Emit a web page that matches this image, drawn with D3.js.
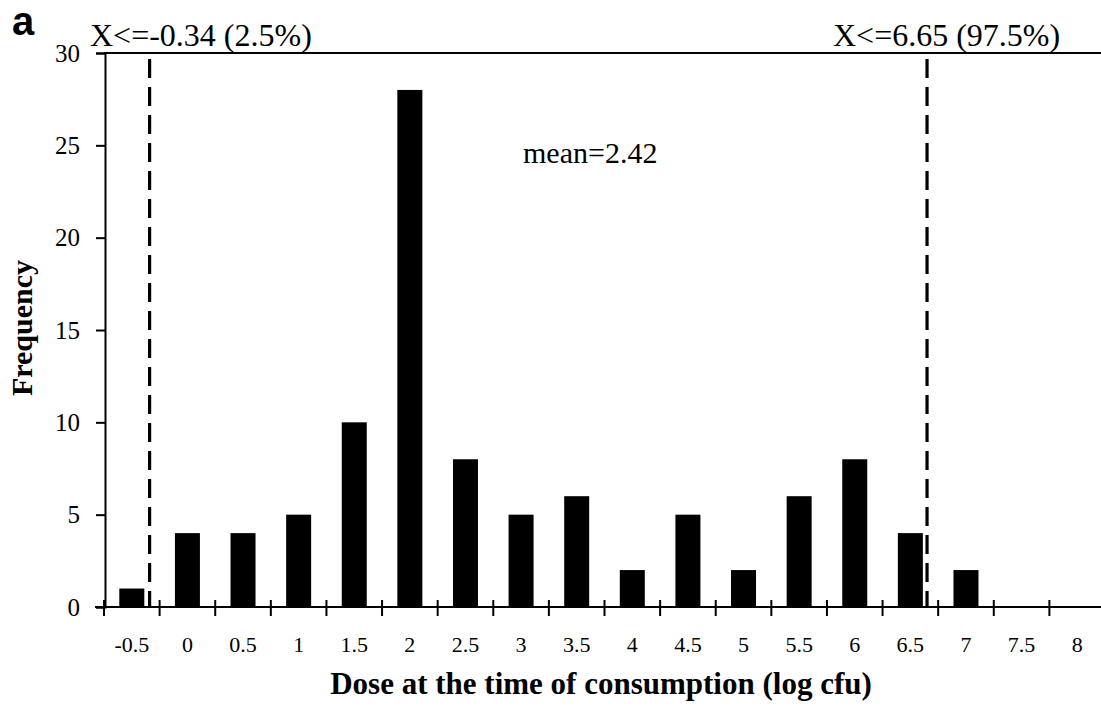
<!DOCTYPE html>
<html><head><meta charset="utf-8">
<script src="https://cdn.jsdelivr.net/npm/d3@7"></script>
<style>body{margin:0;background:#fff}svg{display:block}text{fill:#000}</style>
</head><body>
<script>
const categories = [-0.5,0,0.5,1,1.5,2,2.5,3,3.5,4,4.5,5,5.5,6,6.5,7,7.5,8];
const tickLabels = ["-0.5","0","0.5","1","1.5","2","2.5","3","3.5","4","4.5","5","5.5","6","6.5","7","7.5","8"];
const frequency = [1,4,4,5,10,28,8,5,6,2,5,2,6,8,4,2,0,0];
const yTicks = [0,5,10,15,20,25,30];
const percentileLines = [-0.34, 6.65];
const percentileLabels = ["X<=-0.34 (2.5%)", "X<=6.65 (97.5%)"];
const meanLabel = "mean=2.42";

const W = 1101, H = 707;
const svg = d3.select("body").append("svg").attr("width", W).attr("height", H)
  .style("font-family", "Liberation Serif, Times New Roman, serif");
const serif = "Liberation Serif, Times New Roman, serif";

const x = d3.scaleLinear().domain([-0.75, 8.25]).range([104, 1105]);
const y = d3.scaleLinear().domain([0, 30]).range([607, 53]);
const barW = 25;

// bars
svg.append("g").selectAll("rect").data(categories).join("rect")
  .attr("x", (c) => x(c) - barW/2)
  .attr("width", barW)
  .attr("y", (c,i) => y(frequency[i]))
  .attr("height", (c,i) => y(0) - y(frequency[i]))
  .attr("fill", "#000");

// y axis
const ya = svg.append("g").attr("transform", `translate(${x(-0.75)+1},0)`)
  .call(d3.axisLeft(y).tickValues(yTicks).tickSize(9).tickPadding(16).tickFormat(d3.format("d")))
  .attr("font-family", serif).attr("font-size", 25);
ya.select(".domain").attr("stroke-width", 2);
ya.selectAll(".tick line").attr("stroke-width", 2);
ya.selectAll("text").attr("fill", "#000");

// top border
svg.append("line").attr("x1", x(-0.75)).attr("x2", x(8.25)).attr("y1", y(30)).attr("y2", y(30))
  .attr("stroke", "#000").attr("stroke-width", 2);

// x axis line
svg.append("line").attr("x1", x(-0.75) - 9).attr("x2", x(8.25)).attr("y1", y(0)).attr("y2", y(0))
  .attr("stroke", "#000").attr("stroke-width", 2);
// boundary ticks (crossing)
const bounds = categories.map(c => c - 0.25);
svg.append("g").selectAll("line").data(bounds).join("line")
  .attr("x1", d => x(d)).attr("x2", d => x(d))
  .attr("y1", y(0) - 7).attr("y2", y(0) + 9)
  .attr("stroke", "#000").attr("stroke-width", 2);
// tick labels
svg.append("g").selectAll("text").data(categories).join("text")
  .attr("x", c => x(c)).attr("y", 652)
  .attr("text-anchor", "middle").attr("font-family", serif).attr("font-size", 22)
  .text((c,i) => tickLabels[i]);

// percentile dashed lines
svg.append("g").selectAll("line").data(percentileLines).join("line")
  .attr("x1", d => x(d)).attr("x2", d => x(d))
  .attr("y1", 59).attr("y2", y(0))
  .attr("stroke", "#000").attr("stroke-width", 3.2).attr("stroke-dasharray", "19,9");

// percentile labels
svg.append("text").attr("x", 90).attr("y", 46).attr("font-family", serif).attr("font-size", 32).text(percentileLabels[0]);
svg.append("text").attr("x", 833).attr("y", 46).attr("font-family", serif).attr("font-size", 32).text(percentileLabels[1]);

// mean label
svg.append("text").attr("x", 523).attr("y", 163).attr("font-family", serif).attr("font-size", 30).text(meanLabel);

// axis titles
svg.append("text").attr("x", 601).attr("y", 694).attr("text-anchor", "middle")
  .attr("font-family", serif).attr("font-weight", "bold").attr("font-size", 31)
  .text("Dose at the time of consumption (log cfu)");
svg.append("text").attr("transform", "translate(32,328) rotate(-90)").attr("text-anchor", "middle")
  .attr("font-family", serif).attr("font-weight", "bold").attr("font-size", 30)
  .text("Frequency");

// panel letter
svg.append("text").attr("x", 12).attr("y", 35).attr("font-family", "Liberation Sans, Arial, sans-serif")
  .attr("font-weight", "bold").attr("font-size", 40).text("a");
</script>
</body></html>
